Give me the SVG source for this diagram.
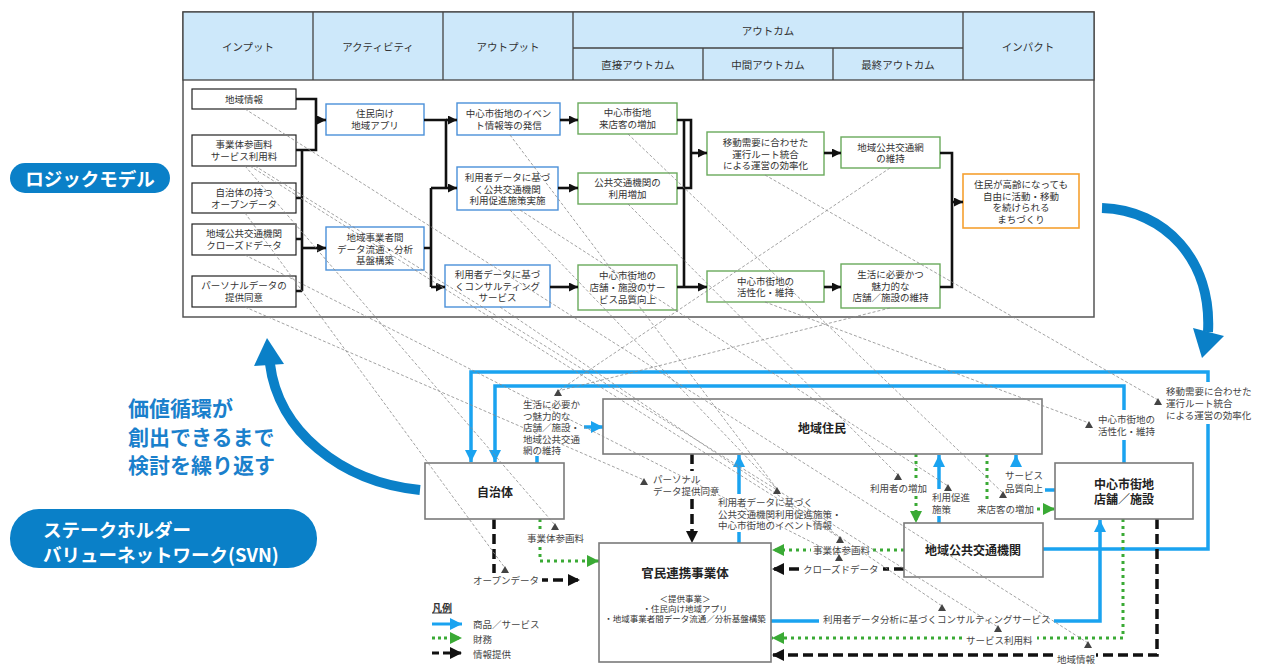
<svg xmlns="http://www.w3.org/2000/svg" width="1264" height="671" viewBox="0 0 1264 671">
<style>
text{font-family:"Noto Sans CJK JP","Noto Sans",sans-serif;dominant-baseline:central}
.h{font-size:10.5px;fill:#333;text-anchor:middle}
.lm{font-size:9.5px;fill:#333;text-anchor:middle}
.bi{fill:#fff;stroke:#222;stroke-width:1.2}
.ba{fill:#fff;stroke:#4a90d9;stroke-width:1.4}
.bg{fill:#fff;stroke:#6aaa5c;stroke-width:1.4}
.bo{fill:#fff;stroke:#f5a030;stroke-width:1.6}
.lc{fill:none;stroke:#111;stroke-width:2.6}
.la{fill:none;stroke:#111;stroke-width:2.6;marker-end:url(#ak)}
.sn{fill:#fff;stroke:#7a7a7a;stroke-width:1.6}
.st{font-size:12px;font-weight:bold;fill:#222;text-anchor:middle}
.lb{font-size:9.5px;fill:#444}
.blue{fill:none;stroke:#1aa3f0;stroke-width:3.5;marker-end:url(#ab)}
.green{fill:none;stroke:#3aaa35;stroke-width:3;stroke-dasharray:3 4;marker-end:url(#ag)}
.black{fill:none;stroke:#111;stroke-width:3.5;stroke-dasharray:10 5;marker-end:url(#ak2)}
.wb{fill:#fff}
.map{fill:none;stroke:#8a8a8a;stroke-width:0.8;stroke-dasharray:3 2}
.tri{fill:#444}
.big{fill:none;stroke:#0a80c8;stroke-width:10}
.pill{font-size:18.5px;font-weight:bold;fill:#fff}
.cyc{font-size:21px;font-weight:bold;fill:#1a80cc}
</style>
<defs>
<marker id="ak" viewBox="0 0 10 10" refX="10" refY="5" markerWidth="9" markerHeight="9" markerUnits="userSpaceOnUse" orient="auto"><path d="M0,0 L10,5 L0,10 z" fill="#111"/></marker>
<marker id="ab" viewBox="0 0 10 10" refX="10" refY="5" markerWidth="12" markerHeight="12" markerUnits="userSpaceOnUse" orient="auto"><path d="M0,0 L10,5 L0,10 z" fill="#1aa3f0"/></marker>
<marker id="ag" viewBox="0 0 10 10" refX="10" refY="5" markerWidth="12" markerHeight="12" markerUnits="userSpaceOnUse" orient="auto"><path d="M0,0 L10,5 L0,10 z" fill="#3aaa35"/></marker>
<marker id="ak2" viewBox="0 0 10 10" refX="10" refY="5" markerWidth="12" markerHeight="12" markerUnits="userSpaceOnUse" orient="auto"><path d="M0,0 L10,5 L0,10 z" fill="#111"/></marker>
<path id="tri" d="M0,-4 L4,3 L-4,3 z"/>
</defs>

<!-- Side labels and cycle arrows -->
<g id="pill-logic">
<rect x="10" y="163" width="160" height="30" rx="15" fill="#0a80c8"/>
<text x="90" y="178" style="font-size:18.5px;font-weight:bold;fill:#fff;text-anchor:middle">ロジックモデル</text>
</g>
<g id="pill-svn">
<rect x="10" y="509" width="307" height="59" rx="29" fill="#0a80c8"/>
<text class="pill"><tspan x="43" y="528.5">ステークホルダー</tspan><tspan x="43" y="553.5">バリューネットワーク(SVN)</tspan></text>
</g>
<g id="cycle-text">
<text class="cyc"><tspan x="128" y="407">価値循環が</tspan><tspan x="128" y="436">創出できるまで</tspan><tspan x="128" y="464">検討を繰り返す</tspan></text>
</g>
<g id="cycle-arrows">
<path class="big" d="M1102,208 C1165,210 1212,260 1208,332"/>
<polygon points="1193,328 1224,336 1202,358" fill="#0a80c8"/>
<path class="big" d="M420,490 C340,482 278,430 270,364"/>
<polygon points="267,338 254,366 284,364" fill="#0a80c8"/>
</g>

<!-- Logic model frame -->
<g id="logic-frame">
<rect x="183" y="12" width="911" height="305" fill="#fff" stroke="#555" stroke-width="1.5"/>
<rect x="183" y="12" width="911" height="68" fill="#cde8fa" stroke="#444" stroke-width="1.3"/>
<path d="M313,12 V80 M443,12 V80 M573,12 V80 M963,12 V80 M573,48 H963 M703,48 V80 M833,48 V80" stroke="#444" stroke-width="1.3" fill="none"/>
<text class="h" x="248" y="46">インプット</text>
<text class="h" x="378" y="46">アクティビティ</text>
<text class="h" x="508" y="46">アウトプット</text>
<text class="h" x="768" y="30">アウトカム</text>
<text class="h" x="638" y="64">直接アウトカム</text>
<text class="h" x="768" y="64">中間アウトカム</text>
<text class="h" x="898" y="64">最終アウトカム</text>
<text class="h" x="1028" y="46">インパクト</text>
</g>

<!-- Logic model nodes -->
<g id="in1"><rect class="bi" x="192" y="89" width="104" height="20"/><text class="lm" x="244" y="99">地域情報</text></g>
<g id="in2"><rect class="bi" x="192" y="135" width="104" height="31"/><text class="lm"><tspan x="244" y="144">事業体参画料</tspan><tspan x="244" y="156">サービス利用料</tspan></text></g>
<g id="in3"><rect class="bi" x="192" y="183" width="104" height="30"/><text class="lm"><tspan x="244" y="192">自治体の持つ</tspan><tspan x="244" y="204">オープンデータ</tspan></text></g>
<g id="in4"><rect class="bi" x="192" y="224" width="104" height="31"/><text class="lm"><tspan x="244" y="233">地域公共交通機関</tspan><tspan x="244" y="245">クローズドデータ</tspan></text></g>
<g id="in5"><rect class="bi" x="192" y="276" width="104" height="31"/><text class="lm"><tspan x="244" y="285">パーソナルデータの</tspan><tspan x="244" y="297">提供同意</tspan></text></g>

<g id="a1"><rect class="ba" x="326" y="104" width="98" height="31"/><text class="lm"><tspan x="375" y="113">住民向け</tspan><tspan x="375" y="125">地域アプリ</tspan></text></g>
<g id="a2"><rect class="ba" x="326" y="227" width="98" height="43"/><text class="lm"><tspan x="375" y="237">地域事業者間</tspan><tspan x="375" y="248.5">データ流通・分析</tspan><tspan x="375" y="260">基盤構築</tspan></text></g>

<g id="o1"><rect class="ba" x="457" y="103" width="103" height="32"/><text class="lm"><tspan x="508.5" y="113">中心市街地のイベン</tspan><tspan x="508.5" y="125">ト情報等の発信</tspan></text></g>
<g id="o2"><rect class="ba" x="457" y="167" width="101" height="43"/><text class="lm"><tspan x="507.5" y="177">利用者データに基づ</tspan><tspan x="507.5" y="188.5">く公共交通機関</tspan><tspan x="507.5" y="200">利用促進施策実施</tspan></text></g>
<g id="o3"><rect class="ba" x="445" y="265" width="105" height="42"/><text class="lm"><tspan x="497.5" y="274">利用者データに基づ</tspan><tspan x="497.5" y="285.5">くコンサルティング</tspan><tspan x="497.5" y="297">サービス</tspan></text></g>

<g id="d1"><rect class="bg" x="578" y="103" width="99" height="31"/><text class="lm"><tspan x="627.5" y="112">中心市街地</tspan><tspan x="627.5" y="124">来店客の増加</tspan></text></g>
<g id="d2"><rect class="bg" x="578" y="173" width="99" height="31"/><text class="lm"><tspan x="627.5" y="182">公共交通機関の</tspan><tspan x="627.5" y="194">利用増加</tspan></text></g>
<g id="d3"><rect class="bg" x="578" y="265" width="99" height="45"/><text class="lm"><tspan x="627.5" y="275">中心市街地の</tspan><tspan x="627.5" y="287">店舗・施設のサー</tspan><tspan x="627.5" y="298.5">ビス品質向上</tspan></text></g>

<g id="m1"><rect class="bg" x="707" y="132" width="117" height="43"/><text class="lm"><tspan x="765.5" y="142">移動需要に合わせた</tspan><tspan x="765.5" y="153.5">運行ルート統合</tspan><tspan x="765.5" y="165">による運営の効率化</tspan></text></g>
<g id="m2"><rect class="bg" x="707" y="271" width="117" height="31"/><text class="lm"><tspan x="765.5" y="280.5">中心市街地の</tspan><tspan x="765.5" y="292">活性化・維持</tspan></text></g>

<g id="f1"><rect class="bg" x="841" y="137" width="99" height="31"/><text class="lm"><tspan x="890.5" y="146.5">地域公共交通網</tspan><tspan x="890.5" y="158">の維持</tspan></text></g>
<g id="f2"><rect class="bg" x="841" y="264" width="99" height="44"/><text class="lm"><tspan x="890.5" y="274">生活に必要かつ</tspan><tspan x="890.5" y="285.5">魅力的な</tspan><tspan x="890.5" y="297">店舗／施設の維持</tspan></text></g>

<g id="impact"><rect class="bo" x="963" y="174" width="116" height="54"/><text class="lm"><tspan x="1021" y="184">住民が高齢になっても</tspan><tspan x="1021" y="195.5">自由に活動・移動</tspan><tspan x="1021" y="207">を続けられる</tspan><tspan x="1021" y="218.5">まちづくり</tspan></text></g>

<!-- Logic model connectors -->
<g id="logic-connectors">
<path class="lc" d="M296,99 H316 V150 H296"/>
<path class="la" d="M316,120 H326"/>
<path class="lc" d="M302,150 V291 M296,198 H302 M296,239 H302 M296,291 H302"/>
<path class="la" d="M302,248 H326"/>
<path class="lc" d="M424,120 H446 V188"/>
<path class="la" d="M446,120 H457"/>
<path class="la" d="M431,188 H457"/>
<path class="lc" d="M424,248 H431 M431,188 V287"/>
<path class="la" d="M431,287 H445"/>
<path class="la" d="M560,120 H578"/>
<path class="la" d="M558,188 H578"/>
<path class="la" d="M550,287 H578"/>
<path class="lc" d="M677,120 H691 V188 H677 M684,120 V287"/>
<path class="la" d="M691,153 H707"/>
<path class="la" d="M677,287 H707"/>
<path class="la" d="M824,153 H841"/>
<path class="la" d="M824,287 H841"/>
<path class="lc" d="M940,153 H952 V287 H940"/>
<path class="la" d="M952,202 H963"/>
</g>

<!-- SVN connectors -->
<g id="svn-connectors">
<path class="blue" d="M1043,549 H1208 V372 H471 V462"/>
<path class="blue" d="M1124,463 V386 H495 V462"/>
<path class="blue" d="M537,463 V427 H603"/>
<path class="blue" d="M739,543 V455"/>
<path class="blue" d="M939,523 V455"/>
<path class="blue" d="M1055,490 H1016 V455"/>
<path class="blue" d="M771,621 H1100 V520"/>
<path class="green" d="M540,519 V561 H599"/>
<path class="green" d="M904,550 H772"/>
<path class="green" d="M1123,519 V638 H772"/>
<path class="green" d="M916,454 V523"/>
<path class="green" d="M987,454 V509 H1055"/>
<path class="black" d="M494,519 V580 H580"/>
<path class="black" d="M692,454 V543"/>
<path class="black" d="M904,569 H772"/>
<path class="black" d="M1157,519 V655 H772"/>
</g>

<!-- SVN nodes -->
<g id="n-jumin"><rect class="sn" x="603" y="399" width="439" height="55"/><text class="st" x="822" y="427">地域住民</text></g>
<g id="n-jichitai"><rect class="sn" x="425" y="463" width="139" height="56"/><text class="st" x="495" y="491">自治体</text></g>
<g id="n-kanmin"><rect class="sn" x="599" y="543" width="172" height="119"/><text class="st" x="685" y="572" style="font-size:12.5px">官民連携事業体</text>
<text class="lm" style="font-size:8.5px"><tspan x="685" y="598">＜提供事業＞</tspan><tspan x="685" y="608">・住民向け地域アプリ</tspan><tspan x="685" y="618">・地域事業者間データ流通／分析基盤構築</tspan></text></g>
<g id="n-kotsu"><rect class="sn" x="904" y="523" width="139" height="54"/><text class="st" x="973" y="549">地域公共交通機関</text></g>
<g id="n-shoten"><rect class="sn" x="1055" y="463" width="138" height="56"/><text class="st"><tspan x="1124" y="483">中心市街地</tspan><tspan x="1124" y="498">店舗／施設</tspan></text></g>

<!-- SVN labels -->
<g id="svn-labels">
<rect class="wb" x="520" y="396" width="64" height="60"/>
<text class="lb"><tspan x="523" y="404">生活に必要か</tspan><tspan x="523" y="415.5">つ魅力的な</tspan><tspan x="523" y="427">店舗／施設・</tspan><tspan x="523" y="438.5">地域公共交通</tspan><tspan x="523" y="450">網の維持</tspan></text>
<rect class="wb" x="651" y="471" width="70" height="27"/>
<text class="lb"><tspan x="653" y="479">パーソナル</tspan><tspan x="653" y="490.5">データ提供同意</tspan></text>
<rect class="wb" x="716" y="494" width="128" height="38"/>
<text class="lb"><tspan x="718" y="502">利用者データに基づく</tspan><tspan x="718" y="513.5">公共交通機関利用促進施策・</tspan><tspan x="718" y="525">中心市街地のイベント情報</tspan></text>
<rect class="wb" x="868" y="481" width="61" height="15"/>
<text class="lb" x="870" y="488">利用者の増加</text>
<rect class="wb" x="930" y="489" width="42" height="27"/>
<text class="lb"><tspan x="932" y="497">利用促進</tspan><tspan x="932" y="508.5">施策</tspan></text>
<rect class="wb" x="975" y="501" width="61" height="15"/>
<text class="lb" x="977" y="508.5">来店客の増加</text>
<rect class="wb" x="1003" y="467" width="42" height="28"/>
<text class="lb"><tspan x="1005" y="475">サービス</tspan><tspan x="1005" y="488">品質向上</tspan></text>
<rect class="wb" x="1096" y="410" width="61" height="30"/>
<text class="lb"><tspan x="1098" y="419">中心市街地の</tspan><tspan x="1098" y="431">活性化・維持</tspan></text>
<rect class="wb" x="1164" y="382" width="92" height="42"/>
<text class="lb"><tspan x="1166" y="391">移動需要に合わせた</tspan><tspan x="1166" y="403">運行ルート統合</tspan><tspan x="1166" y="415">による運営の効率化</tspan></text>
<rect class="wb" x="525" y="531" width="61" height="15"/>
<text class="lb" x="527" y="538">事業体参画料</text>
<rect class="wb" x="471" y="573" width="71" height="15"/>
<text class="lb" x="473" y="580">オープンデータ</text>
<rect class="wb" x="811" y="543" width="62" height="15"/>
<text class="lb" x="813" y="550">事業体参画料</text>
<rect class="wb" x="799" y="562" width="84" height="15"/>
<text class="lb" x="803" y="569">クローズドデータ</text>
<rect class="wb" x="819" y="612" width="235" height="16"/>
<text class="lb" x="823" y="619">利用者データ分析に基づくコンサルティングサービス</text>
<rect class="wb" x="962" y="632" width="75" height="15"/>
<text class="lb" x="966" y="640">サービス利用料</text>
<rect class="wb" x="1053" y="651" width="43" height="15"/>
<text class="lb" x="1057" y="659">地域情報</text>
</g>

<!-- Legend -->
<g id="legend">
<text x="432" y="607" style="font-size:10px;font-weight:bold;fill:#333;text-decoration:underline">凡例</text>
<path d="M432,624 H462" stroke="#1aa3f0" stroke-width="3" fill="none" marker-end="url(#ab)"/>
<text class="lb" x="473" y="624">商品／サービス</text>
<path d="M432,638 H462" stroke="#3aaa35" stroke-width="3" stroke-dasharray="3 3" fill="none" marker-end="url(#ag)"/>
<text class="lb" x="473" y="638.5">財務</text>
<path d="M432,653 H462" stroke="#111" stroke-width="3" stroke-dasharray="7 4" fill="none" marker-end="url(#ak2)"/>
<text class="lb" x="473" y="653.5">情報提供</text>
</g>

<!-- Mapping lines between logic model and SVN -->
<g id="mapping">
<path class="map" d="M245,109 L1088,643"/>
<path class="map" d="M245,166 L555,525"/>
<path class="map" d="M250,166 L840,538"/>
<path class="map" d="M255,166 L998,627"/>
<path class="map" d="M245,213 L505,568"/>
<path class="map" d="M245,255 L839,556"/>
<path class="map" d="M245,307 L644,480"/>
<path class="map" d="M510,135 L777,489"/>
<path class="map" d="M510,210 L777,489"/>
<path class="map" d="M520,210 L948,486"/>
<path class="map" d="M500,307 L942,606"/>
<path class="map" d="M628,134 L1003,493"/>
<path class="map" d="M628,204 L898,475"/>
<path class="map" d="M765,302 L1089,423"/>
<path class="map" d="M765,175 L1158,400"/>
<path class="map" d="M890,168 L558,391"/>
<path class="map" d="M890,308 L558,391"/>
<use href="#tri" class="tri" x="558" y="393"/>
<use href="#tri" class="tri" x="644" y="482"/>
<use href="#tri" class="tri" x="777" y="491"/>
<use href="#tri" class="tri" x="555" y="527"/>
<use href="#tri" class="tri" x="505" y="570"/>
<use href="#tri" class="tri" x="898" y="477"/>
<use href="#tri" class="tri" x="948" y="488"/>
<use href="#tri" class="tri" x="1003" y="495"/>
<use href="#tri" class="tri" x="1089" y="425"/>
<use href="#tri" class="tri" x="1158" y="402"/>
<use href="#tri" class="tri" x="840" y="540"/>
<use href="#tri" class="tri" x="839" y="558"/>
<use href="#tri" class="tri" x="942" y="608"/>
<use href="#tri" class="tri" x="998" y="629"/>
<use href="#tri" class="tri" x="1088" y="645"/>
</g>
</svg>
